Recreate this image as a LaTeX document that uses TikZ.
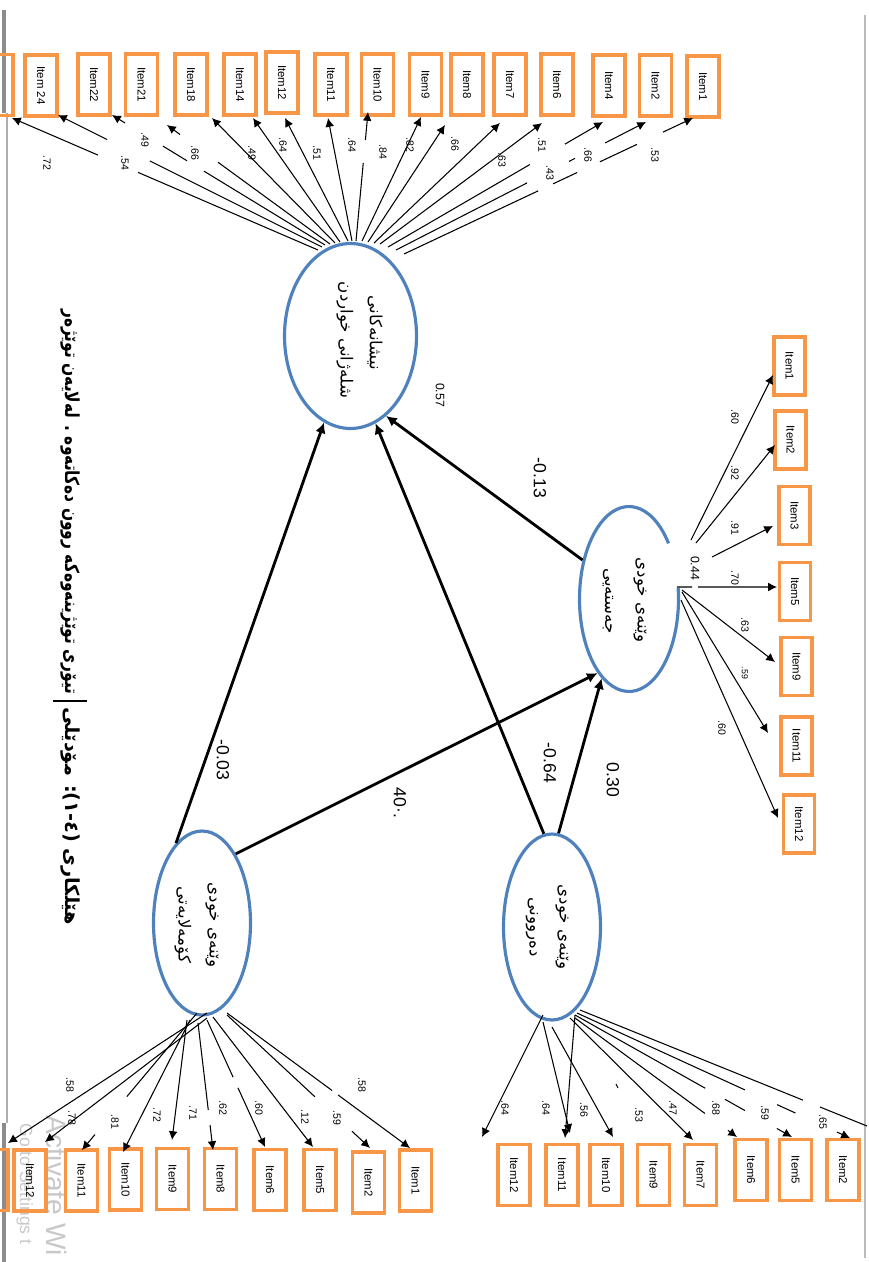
\documentclass[tikz,border=0pt]{standalone}
\usepackage{fontspec}
\usepackage{graphicx}
\setmainfont{Liberation Sans}
\newfontfamily\ku[Script=Arabic]{DejaVu Sans}
\TeXXeTstate=1
\usetikzlibrary{shapes.geometric,arrows.meta,calc}
\definecolor{boxor}{RGB}{247,150,70}
\definecolor{ellb}{RGB}{79,129,189}
\definecolor{wm}{RGB}{200,200,200}
\definecolor{edgeg}{RGB}{140,140,140}
\tikzset{
 item/.style={draw=boxor, line width=2.2pt, rectangle, inner sep=0pt, minimum width=1.22cm, minimum height=0.64cm, rotate=-90, font=\fontsize{6.5}{7}\selectfont},
 itemr/.style={item, minimum width=1.16cm, minimum height=0.62cm},
 latent/.style={ellipse, draw=ellb, line width=1.8pt, inner sep=0pt},
 ld/.style={line width=0.6pt},
 lda/.style={ld, -{Latex[length=5pt,width=5pt]}},
 pth/.style={line width=1.6pt, -{Latex[length=6pt,width=6pt]}},
 lab/.style={rotate=-90, inner sep=0pt, font=\fontsize{6}{7}\selectfont},
 biglab/.style={rotate=-90, inner sep=0pt, font=\fontsize{10}{12}\selectfont},
 midlab/.style={rotate=-90, inner sep=0pt, font=\fontsize{7}{8}\selectfont},
 kut/.style={rotate=-90, inner sep=0pt, font=\ku\fontsize{9.5}{11}\selectfont},
 captext/.style={rotate=-90, inner sep=0pt, font=\ku\bfseries\fontsize{11}{13}\selectfont},
}
\newcommand\lf[2]{\draw[lda] (#2) -- (#1);}
\newcommand\lo[4]{\draw[lda] ($(#1)!#3!(#2)$) -- (#1);
 \foreach \a/\b in {#4}{\draw[ld] ($(#1)!\a!(#2)$) -- ($(#1)!\b!(#2)$);}}
\begin{document}
\begin{tikzpicture}[x=0.02cm,y=-0.02cm]
\useasboundingbox (0,0) rectangle (869,1262);
\clip (0,0) rectangle (869,1262);
% page edges
\fill[edgeg] (2,10) rectangle (6,113);
\draw[edgeg!70,line width=0.6pt] (7,113) -- (7,1123);
\fill[edgeg] (2,1123) rectangle (6,1262);
\draw[edgeg!60,line width=0.6pt] (865,15) -- (865,1258);
% watermark
\node[rotate=-90, anchor=base west, text=wm, inner sep=0pt, font=\fontsize{16}{16}\selectfont] (wm1) at (47,1115) {Activate Wi};
\node[rotate=-90, anchor=base west, text=wm, inner sep=0pt, font=\fontsize{10}{10}\selectfont] (wm2) at (20,1123) {Go to Settings t};
% latent variables
\node[latent, minimum width=2.64cm, minimum height=3.7cm] (ED) at (350.5,336) {};
\node[latent, draw=none, minimum width=1.98cm, minimum height=3.7cm] (BI) at (629,599) {};
\draw[ellb, line width=1.8pt] ([shift={(37:0.99cm and 1.85cm)}]BI.center) arc[start angle=37, end angle=367, x radius=0.99cm, y radius=1.85cm];
\node[latent, minimum width=1.94cm, minimum height=3.68cm] (SO) at (202,923) {};
\node[latent, minimum width=1.94cm, minimum height=3.72cm] (PS) at (552,927) {};
\node[kut] (EDa) at (375,333) {\beginR نیشانەکانی\endR};
\node[kut] (EDb) at (345,340) {\beginR شلەژانی  خواردن\endR};
\node[kut] (BIa) at (640,600) {\beginR وێنەی خودی\endR};
\node[kut] (BIb) at (608,601) {\beginR جەستەیی\endR};
\node[kut] (SOa) at (212,925) {\beginR وێنەی خودی\endR};
\node[kut] (SOb) at (183,925) {\beginR کۆمەلایەتی\endR};
\node[kut] (PSa) at (562,927) {\beginR وێنەی خودی\endR};
\node[kut] (PSb) at (532,927) {\beginR دەروونی\endR};
% caption
\node[captext, anchor=west] (cap1) at (70,707) {\beginR هێلکاری (٤-١): مۆدێلی\endR};
\node[captext, anchor=east] (cap2) at (70,695) {\scalebox{0.8}[1]{\beginR تیۆری توێژینەوەکە روون دەکاتەوە . لەلایەن توێژەر\endR}};
\draw[line width=0.8pt] (53,701) -- (87,701);
% structural paths
\draw[pth] (SO.108) -- (ED.253);
\draw[pth] (PS.95) -- (ED.286);
\draw[pth] (BI.140) -- (ED.294);
\draw[pth] (SO.64) -- (BI.247);
\draw[pth] (PS.86) -- (BI.251);
\node[biglab] (l1) at (223,760) {-0.03};
\node[biglab] (l2) at (550,763) {-0.64};
\node[biglab] (l3) at (540,478) {-0.13};
\node[biglab] (l4) at (400,803) {40\textperiodcentered.};
\node[biglab] (l5) at (613,780) {0.30};
\node[midlab] (l6) at (440,395) {0.57};
\node[midlab] (l7) at (695,568) {0.44};
% ---- top items (eating disorder)
\node[item] (TP) at (-3,85) {};
\node[item] (T24) at (41,85.5) {Item 24};
\node[item] (T22) at (94,84.5) {Item22};
\node[item] (T21) at (141.5,84.5) {Item21};
\node[item] (T18) at (191,84.5) {Item18};
\node[item] (T14) at (240,84.5) {Item14};
\node[item] (T12) at (282,82.5) {Item12};
\node[item] (T11) at (331,84.5) {Item11};
\node[item] (T10) at (377.5,84.5) {Item10};
\node[item] (T9) at (425.5,84.5) {Item9};
\node[item] (T8) at (467,84.5) {Item8};
\node[item] (T7) at (510,84.5) {Item7};
\node[item] (T6) at (557,84.5) {Item6};
\node[item] (T4) at (609,85.5) {Item4};
\node[item] (T2) at (655.5,85.5) {Item2};
\node[item] (T1) at (703,86.5) {Item1};
\coordinate (tTP) at (12,118);  \coordinate (sTP) at (318,250);
\coordinate (tT24) at (58,115); \coordinate (sT24) at (322,247);
\coordinate (tT22) at (112,115);\coordinate (sT22) at (325,245);
\coordinate (tT21) at (167,125);\coordinate (sT21) at (330,244);
\coordinate (tT18) at (212,118);\coordinate (sT18) at (335,243);
\coordinate (tT14) at (253,118);\coordinate (sT14) at (340,242);
\coordinate (tT12) at (285,118);\coordinate (sT12) at (348,241);
\coordinate (tT11) at (328,118);\coordinate (sT11) at (352,241);
\coordinate (tT10) at (368,112);\coordinate (sT10) at (356,241);
\coordinate (tT9) at (421,117); \coordinate (sT9) at (362,241);
\coordinate (tT8) at (445,125); \coordinate (sT8) at (368,242);
\coordinate (tT7) at (500,123); \coordinate (sT7) at (374,243);
\coordinate (tT6) at (542,123); \coordinate (sT6) at (380,244);
\coordinate (tT4) at (603,122); \coordinate (sT4) at (388,247);
\coordinate (tT2) at (646,122); \coordinate (sT2) at (396,250);
\coordinate (tT1) at (693,118); \coordinate (sT1) at (404,254);
\lo{tTP}{sTP}{0.281}{0.412/1}
\lo{tT24}{sT24}{0.186}{0.348/1}
\lo{tT22}{sT22}{0.061}{0.239/0.352,0.432/1}
\lo{tT21}{sT21}{0.08}{0.313/1}
\lf{tT18}{sT18}
\lf{tT14}{sT14}
\lf{tT12}{sT12}
\lf{tT11}{sT11}
\lo{tT10}{sT10}{0.217}{0.395/1}
\lf{tT9}{sT9}
\lf{tT8}{sT8}
\lf{tT7}{sT7}
\lf{tT6}{sT6}
\lo{tT4}{sT4}{0.177}{0.34/1}
\lo{tT2}{sT2}{0.164}{0.284/0.308,0.476/1}
\lo{tT1}{sT1}{0.104}{0.194/0.322,0.401/0.484,0.536/1}
\node[lab] at (47,163) {.72};
\node[lab] at (125,163) {.54};
\node[lab] at (145,140) {.49};
\node[lab] at (195,153) {.66};
\node[lab] at (252,153) {.49};
\node[lab] at (283,145) {.64};
\node[lab] at (317,153) {.51};
\node[lab] at (352,145) {.64};
\node[lab] at (383,152) {.84};
\node[lab] at (410,145) {.82};
\node[lab] at (455,144) {.66};
\node[lab] at (502,160) {.63};
\node[lab] at (542,145) {.51};
\node[lab] at (550,173) {.43};
\node[lab] at (588,155) {.66};
\node[lab] at (655,155) {.53};
% ---- right items (body image)
\node[itemr] (R1) at (789.5,366) {Item1};
\node[itemr] (R2) at (790.5,440) {Item2};
\node[itemr] (R3) at (794.5,515.5) {Item3};
\node[itemr] (R5) at (795,591.5) {Item5};
\node[itemr] (R9) at (796.5,666.5) {Item9};
\node[itemr] (R11) at (796.5,746) {Item11};
\node[itemr] (R12) at (799,824) {Item12};
\coordinate (tR1) at (773,375); \coordinate (sR1) at (691,540);
\coordinate (tR2) at (775,445); \coordinate (sR2) at (696,543);
\coordinate (tR3) at (773,526); \coordinate (sR3) at (712,557);
\coordinate (tR5) at (777,587); \coordinate (sR5) at (677,587);
\coordinate (tR9) at (775,662); \coordinate (sR9) at (682,590);
\coordinate (tR11) at (768,733); \coordinate (sR11) at (682,592);
\coordinate (tR12) at (778,818); \coordinate (sR12) at (681,600);
\lf{tR1}{sR1}
\lf{tR2}{sR2}
\lf{tR3}{sR3}
\lo{tR5}{sR5}{0.79}{0.85/1}
\lf{tR9}{sR9}
\lf{tR11}{sR11}
\lf{tR12}{sR12}
\node[lab] at (735,417) {.60};
\node[lab] at (735,473) {.92};
\node[lab] at (735,528) {.91};
\node[lab] at (735,578) {.70};
\node[lab] at (745,625) {.63};
\node[lab, font=\fontsize{5}{6}\selectfont] at (745,673) {.59};
\node[lab] at (722,728) {.60};
% ---- bottom-left items (social)
\node[item] (SP) at (-8,1180) {};
\node[item] (S12) at (30,1180.5) {Item12};
\node[item] (S11) at (81.5,1180.5) {Item11};
\node[item] (S10) at (125.5,1179.5) {Item10};
\node[item] (S9) at (172.5,1179) {Item9};
\node[item] (S8) at (220.5,1179) {Item8};
\node[item] (S6) at (270,1180) {Item6};
\node[item] (S5) at (320,1180) {Item5};
\node[item] (S2) at (368.5,1182.5) {Item2};
\node[item] (S1) at (415.5,1180.5) {Item1};
\coordinate (tSP) at (8,1143);   \coordinate (sSP) at (207,1013);
\coordinate (tS12) at (45,1142); \coordinate (sS12) at (207,1018);
\coordinate (tS11) at (82,1150); \coordinate (sS11) at (197,1013);
\coordinate (tS10) at (123,1152);\coordinate (sS10) at (190,1020);
\coordinate (tS9) at (172,1140); \coordinate (sS9) at (187,1020);
\coordinate (tS8) at (213,1150); \coordinate (sS8) at (198,1023);
\coordinate (tS6) at (265,1147); \coordinate (sS6) at (207,1020);
\coordinate (tS5) at (313,1147); \coordinate (sS5) at (213,1017);
\coordinate (tS2) at (370,1148); \coordinate (sS2) at (227,1015);
\coordinate (tS1) at (410,1148); \coordinate (sS1) at (227,1013);
\lf{tSP}{sSP}
\lf{tS12}{sS12}
\lo{tS11}{sS11}{0.113}{0.39/1}
\lf{tS10}{sS10}
\lf{tS9}{sS9}
\lo{tS8}{sS8}{0.197}{0.315/1}
\lo{tS6}{sS6}{0.466}{0.55/1}
\lf{tS5}{sS5}
\lo{tS2}{sS2}{0.126}{0.385/1}
\lo{tS1}{sS1}{0.393}{0.426/1}
\node[lab] at (70,1085) {.58};
\node[lab] at (72,1118) {.78};
\node[lab] at (115,1122) {.81};
\node[lab] at (157,1115) {.72};
\node[lab] at (193,1113) {.71};
\node[lab] at (223,1108) {.62};
\node[lab] at (259,1108) {.60};
\node[lab] at (305,1117) {.12};
\node[lab] at (337,1118) {.59};
\node[lab] at (362,1085) {.58};
% ---- bottom-right items (psychological)
\node[item] (P12) at (514,1175) {Item12};
\node[item] (P11) at (562,1175) {Item11};
\node[item] (P10) at (606,1175) {Item10};
\node[item] (P9) at (653.5,1175) {Item9};
\node[item] (P7) at (700.5,1175) {Item7};
\node[item] (P6) at (751,1170) {Item6};
\node[item] (P5) at (795.5,1170) {Item5};
\node[item] (P2) at (843,1170) {Item2};
\coordinate (tPa) at (482,1137); \coordinate (sPa) at (543,1015);
\coordinate (tPb) at (570,1133); \coordinate (sPb) at (543,1022);
\coordinate (tPc) at (565,1138); \coordinate (sPc) at (575,1015);
\coordinate (tPd) at (613,1137); \coordinate (sPd) at (552,1027);
\coordinate (tPe) at (693,1140); \coordinate (sPe) at (570,1018);
\coordinate (tPf) at (737,1137); \coordinate (sPf) at (575,1018);
\coordinate (tPg) at (792,1137); \coordinate (sPg) at (575,1015);
\coordinate (tPi) at (850,1138); \coordinate (sPi) at (577,1013);
\coordinate (ePh) at (867,1126); \coordinate (sPh) at (580,1010);
\lf{tPa}{sPa}
\lf{tPb}{sPb}
\lf{tPc}{sPc}
\lf{tPd}{sPd}
\lf{tPe}{sPe}
\lo{tPf}{sPf}{0.056}{0.198/1}
\lo{tPg}{sPg}{0.07}{0.217/0.309,0.40/1}
\lo{tPi}{sPi}{0.048}{0.2/0.267,0.385/1}
\draw[ld] (sPh) -- ($(sPh)!0.777!(ePh)$);
\draw[ld] ($(sPh)!0.836!(ePh)$) -- (ePh);
\draw[ld] (616,1084) -- (618,1088);
\node[lab] at (505,1108) {.64};
\node[lab] at (546,1108) {.64};
\node[lab] at (584,1110) {.56};
\node[lab] at (639,1115) {.53};
\node[lab] at (673,1108) {.47};
\node[lab] at (716,1108) {.68};
\node[lab] at (765,1113) {.59};
\node[lab] at (823,1122) {.65};
\end{tikzpicture}
\end{document}
